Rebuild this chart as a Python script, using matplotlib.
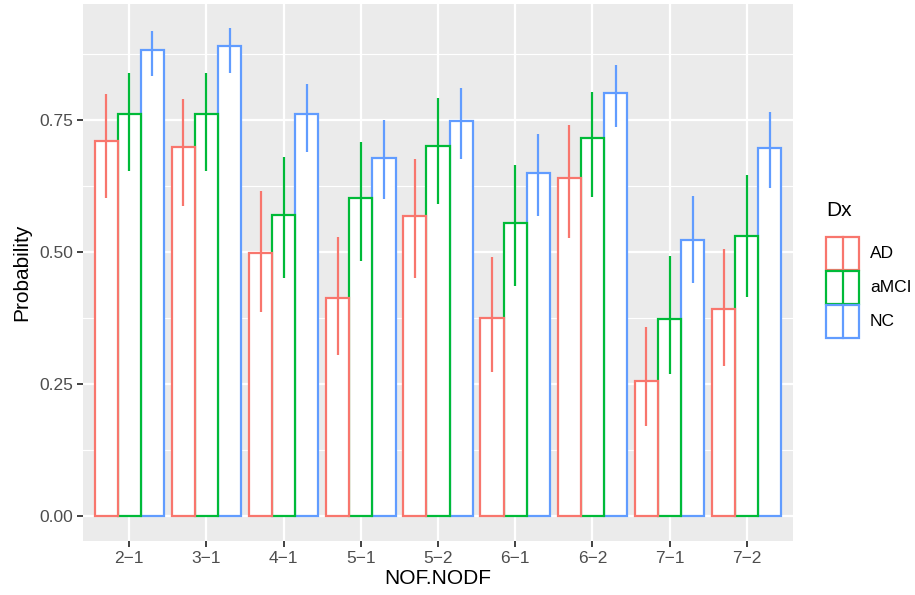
import matplotlib
matplotlib.use("Agg")
import matplotlib.pyplot as plt
import numpy as np
from matplotlib.patches import Rectangle
from matplotlib.lines import Line2D

plt.rcParams['font.family'] = ['Liberation Sans', 'DejaVu Sans']

categories = ["2−1", "3−1", "4−1", "5−1", "5−2", "6−1", "6−2", "7−1", "7−2"]
groups = ["AD", "aMCI", "NC"]

ad = [0.711, 0.699, 0.499, 0.413, 0.568, 0.376, 0.640, 0.256, 0.392]
ad_lo = [0.602, 0.587, 0.386, 0.305, 0.451, 0.273, 0.526, 0.171, 0.285]
ad_hi = [0.799, 0.790, 0.616, 0.529, 0.676, 0.491, 0.741, 0.359, 0.506]

amci = [0.761, 0.761, 0.570, 0.602, 0.701, 0.556, 0.716, 0.374, 0.531]
amci_lo = [0.654, 0.654, 0.451, 0.484, 0.591, 0.436, 0.605, 0.270, 0.414]
amci_hi = [0.840, 0.840, 0.681, 0.708, 0.792, 0.665, 0.804, 0.492, 0.646]

nc = [0.883, 0.890, 0.761, 0.679, 0.748, 0.649, 0.802, 0.523, 0.698]
nc_lo = [0.833, 0.840, 0.690, 0.600, 0.676, 0.568, 0.737, 0.442, 0.621]
nc_hi = [0.919, 0.924, 0.819, 0.750, 0.810, 0.723, 0.854, 0.606, 0.765]

yticks = [0.00, 0.25, 0.50, 0.75]
ytick_labels = ["0.00", "0.25", "0.50", "0.75"]

colors = {"AD": "#F8766D", "aMCI": "#00BA38", "NC": "#619CFF"}
series = {
    "AD": (ad, ad_lo, ad_hi),
    "aMCI": (amci, amci_lo, amci_hi),
    "NC": (nc, nc_lo, nc_hi),
}

W, H = 915, 595
fig = plt.figure(figsize=(W / 100, H / 100), dpi=100)
fig.patch.set_facecolor("white")

left, right, top, bottom = 83, 793, 4, 541
ax = fig.add_axes([left / W, 1 - bottom / H, (right - left) / W, (bottom - top) / H])
ax.set_facecolor("#EBEBEB")
for s in ax.spines.values():
    s.set_visible(False)

x = np.arange(len(categories))
bw = 0.3
offsets = {"AD": -bw, "aMCI": 0.0, "NC": bw}
lw = 1.6

# grid
for yv in [0.125, 0.375, 0.625, 0.875]:
    ax.axhline(yv, color="white", lw=0.8, zorder=0)
for yv in yticks:
    ax.axhline(yv, color="white", lw=1.6, zorder=0)
for xv in x:
    ax.axvline(xv, color="white", lw=1.6, zorder=0)

# bars (reverse order so earlier groups sit on top at shared edges)
z = 2
for g in reversed(groups):
    vals = series[g][0]
    ax.bar(x + offsets[g], vals, width=bw, facecolor="white",
           edgecolor=colors[g], linewidth=lw, zorder=z)
    z += 1

# error bars
for g in groups:
    vals, lo, hi = series[g]
    ax.vlines(x + offsets[g], lo, hi, color=colors[g], lw=lw, zorder=10)

ax.set_xlim(-0.6, len(categories) - 0.4)
ax.set_ylim(-0.0473, 0.970)
ax.set_xticks(x)
ax.set_xticklabels(categories)
ax.set_yticks(yticks)
ax.set_yticklabels(ytick_labels)
ax.tick_params(axis="both", length=4, width=1.3, color="#333333",
               labelcolor="#4D4D4D", labelsize=12.5, pad=3)

ax.set_xlabel("NOF.NODF", fontsize=15, color="black", labelpad=2)
ax.set_ylabel("Probability", fontsize=15, color="black", labelpad=6)

# legend
fig.text(826 / W, 1 - 210 / H, "Dx", fontsize=15, color="black",
         ha="left", va="center")
key_tops = [237, 271, 305]
kh, kx0, kx1 = 33, 826, 859
for g, kt in zip(groups, key_tops):
    fig.patches.append(Rectangle((kx0 / W, 1 - (kt + kh) / H), (kx1 - kx0) / W, kh / H,
                                 transform=fig.transFigure, facecolor="white",
                                 edgecolor=colors[g], lw=lw))
    xm = (kx0 + kx1) / 2
    fig.lines.append(Line2D([xm / W, xm / W], [1 - kt / H, 1 - (kt + kh) / H],
                            transform=fig.transFigure, color=colors[g], lw=lw))
    fig.text(870 / W, 1 - (kt + kh / 2) / H, g, fontsize=12.5, color="black",
             ha="left", va="center")

fig.savefig("out.png", dpi=100)
